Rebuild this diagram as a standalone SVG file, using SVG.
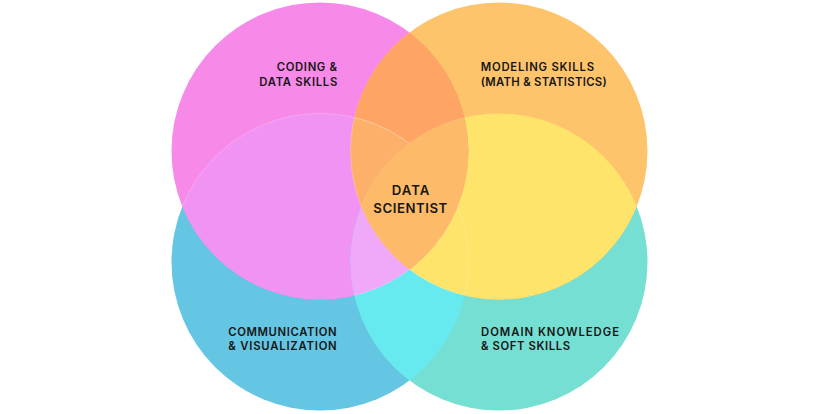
<svg xmlns="http://www.w3.org/2000/svg" width="820" height="414" viewBox="0 0 820 414">
<style>
.lbl{font-family:"Inter","Liberation Sans",Arial,sans-serif;font-weight:600;font-size:11.3px;fill:#161616;}
.ctr{font-family:"Inter","Liberation Sans",Arial,sans-serif;font-weight:600;font-size:13.2px;fill:#161616;}
.seam{fill:none;stroke:#ffffff;stroke-width:0.7;stroke-opacity:0.3;}
</style>
<defs>
<clipPath id="cP"><circle cx="320" cy="151" r="148.5"/></clipPath>
<clipPath id="cO"><circle cx="499" cy="151" r="148.5"/></clipPath>
<clipPath id="cB"><circle cx="320" cy="262" r="148.5"/></clipPath>
<clipPath id="cT"><circle cx="499" cy="262" r="148.5"/></clipPath>
</defs>
<rect width="820" height="414" fill="#ffffff"/>

<g id="node-communication">
<circle cx="320" cy="262" r="148.5" fill="#65c6e4"/>
<text class="lbl" x="228.3" y="336" textLength="108.4" lengthAdjust="spacing">COMMUNICATION</text>
<text class="lbl" x="228.3" y="350.3" textLength="108.4" lengthAdjust="spacing">&amp; VISUALIZATION</text>
</g>
<g id="node-domain">
<circle cx="499" cy="262" r="148.5" fill="#76dfd3"/>
<text class="lbl" x="481" y="336" textLength="138" lengthAdjust="spacing">DOMAIN KNOWLEDGE</text>
<text class="lbl" x="481" y="350.3" textLength="89" lengthAdjust="spacing">&amp; SOFT SKILLS</text>
</g>
<g id="node-coding">
<circle cx="320" cy="151" r="148.5" fill="#f78ae8"/>
<text class="lbl" x="276.7" y="70.7" textLength="60.3" lengthAdjust="spacing">CODING &amp;</text>
<text class="lbl" x="259.3" y="85.7" textLength="78" lengthAdjust="spacing">DATA SKILLS</text>
</g>
<g id="node-modeling">
<circle cx="499" cy="151" r="148.5" fill="#fec46c"/>
<text class="lbl" x="480.7" y="70.7" textLength="113.3" lengthAdjust="spacing">MODELING SKILLS</text>
<text class="lbl" x="480.7" y="85.7" textLength="126" lengthAdjust="spacing">(MATH &amp; STATISTICS)</text>
</g>

<g id="overlaps">
<circle cx="320" cy="262" r="148.5" fill="#f193f3" clip-path="url(#cP)"/>
<circle cx="499" cy="262" r="148.5" fill="#66e9ef" clip-path="url(#cB)"/>
<circle cx="499" cy="262" r="148.5" fill="#fee46a" clip-path="url(#cO)"/>
<circle cx="499" cy="151" r="148.5" fill="#fea566" clip-path="url(#cP)"/>
<g clip-path="url(#cB)"><circle cx="499" cy="262" r="148.5" fill="#f0a9f8" clip-path="url(#cP)"/></g>
<g clip-path="url(#cO)"><circle cx="320" cy="262" r="148.5" fill="#fdb069" clip-path="url(#cP)"/></g>
</g>

<g id="seams">
<circle class="seam" cx="320" cy="262" r="148.5" clip-path="url(#cP)"/>
<g clip-path="url(#cO)"><circle class="seam" cx="499" cy="262" r="148.5" clip-path="url(#cP)"/></g>
<circle class="seam" cx="499" cy="151" r="148.5" clip-path="url(#cB)"/>
<circle class="seam" cx="320" cy="151" r="148.5" clip-path="url(#cT)"/>
<circle class="seam" cx="320" cy="262" r="148.5" clip-path="url(#cO)"/>
</g>

<g id="node-data-scientist">
<g clip-path="url(#cO)"><circle cx="499" cy="262" r="148.5" fill="#fdbb6a" clip-path="url(#cP)"/></g>
<text class="ctr" x="391.7" y="195" textLength="37.6" lengthAdjust="spacing">DATA</text>
<text class="ctr" x="373.3" y="212.7" textLength="74" lengthAdjust="spacing">SCIENTIST</text>
</g>
</svg>
